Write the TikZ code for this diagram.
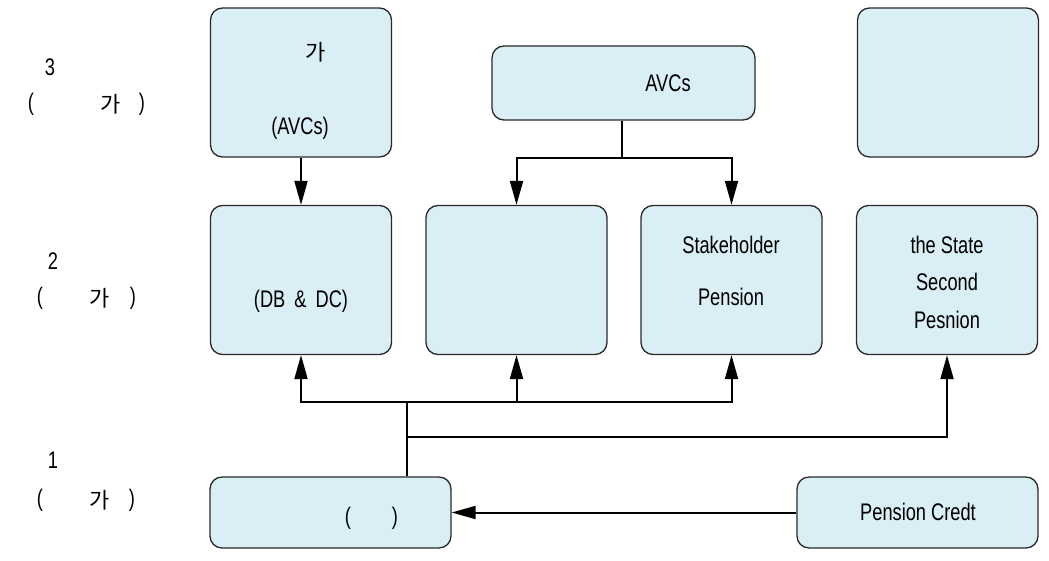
\documentclass[tikz,border=0pt]{standalone}
\usepackage{fontspec}
\setmainfont[FakeStretch=0.76]{Liberation Sans}
\newfontfamily\krfont{Noto Sans CJK KR}
\usetikzlibrary{arrows.meta}
\definecolor{cbox}{HTML}{DAEEF5}
\definecolor{cline}{HTML}{2A2A2A}
\tikzset{
  every picture/.style={line width=1.3pt},
  box/.style={draw=cline, fill=cbox, rounded corners=12pt, minimum width=#1, minimum height=149pt, inner sep=0pt},
  box/.default=181pt,
  flat/.style={box=#1, minimum height=71pt},
  arrow/.style={-{Triangle[length=24pt, width=13pt]}, line width=2pt},
  link/.style={line width=2pt},
  txt/.style={font=\fontsize{24}{28}\selectfont, inner sep=0pt},
  kr/.style={font=\fontsize{22}{26}\selectfont\krfont, inner sep=0pt},
}
\begin{document}
\begin{tikzpicture}[x=1pt, y=-1pt]
  \useasboundingbox (0,0) rectangle (1049,561);
  % level labels
  \node[txt] (n3) at (50,67) {3};
  \node[txt] (o3) at (31,104) {(};
  \node[kr] (k3) at (111,104) {가};
  \node[txt] (c3) at (142,104) {)};
  \node[txt] (n2) at (53,261) {2};
  \node[txt] (o2) at (40,298) {(};
  \node[kr] (k2) at (100,298) {가};
  \node[txt] (c2) at (133,298) {)};
  \node[txt] (n1) at (53,460) {1};
  \node[txt] (o1) at (40,500) {(};
  \node[kr] (k1) at (100,500) {가};
  \node[txt] (c1) at (132,500) {)};
  % boxes
  \node[box] (pa) at (301,82.5) {};
  \node[box=263pt, minimum height=74pt] (avc) at (623.5,83) {};
  \node[box] (pt) at (948,82.5) {};
  \node[box] (occ) at (301,280) {};
  \node[box] (pp) at (516.5,280) {};
  \node[box] (stk) at (731.5,280) {};
  \node[box] (s2p) at (947,280) {};
  \node[flat=241pt] (bsp) at (330.5,512.5) {};
  \node[flat=241pt] (pc) at (917.5,512.5) {};
  % texts in boxes
  \node[kr] (pa1) at (316,52) {가};
  \node[txt] (pa2) at (300,128) {(AVCs)};
  \node[txt] (avct) at (668,83) {AVCs};
  \node[txt] (occt) at (301,301) {(DB \,\& \,DC)};
  \node[txt] (stk1) at (731,245) {Stakeholder};
  \node[txt] (stk2) at (731,297) {Pension};
  \node[txt] (s2p1) at (947,245) {the State};
  \node[txt] (s2p2) at (947,282) {Second};
  \node[txt] (s2p3) at (947,320) {Pesnion};
  \node[txt] (bsp1) at (348,518) {(};
  \node[txt] (bsp2) at (395,518) {)};
  \node[txt] (pct) at (918,512) {Pension Credt};
  % connectors
  \coordinate (ja) at (622,158);
  \coordinate (jb) at (407,402);
  \coordinate (jc) at (407,437);
  \draw[arrow] (pa) -- (occ);
  \draw[link] (avc.south -| ja) -- (ja);
  \draw[arrow] (ja) -| (pp.north);
  \draw[arrow] (ja) -| (stk.north);
  \draw[link] (jb |- bsp.north) -- (jb);
  \draw[arrow] (jb) -| (occ.south);
  \draw[arrow] (jb) -| (pp.south);
  \draw[arrow] (jb) -| (stk.south);
  \draw[arrow] (jc) -| (s2p.south);
  \draw[arrow] (pc) -- (bsp);
\end{tikzpicture}
\end{document}
